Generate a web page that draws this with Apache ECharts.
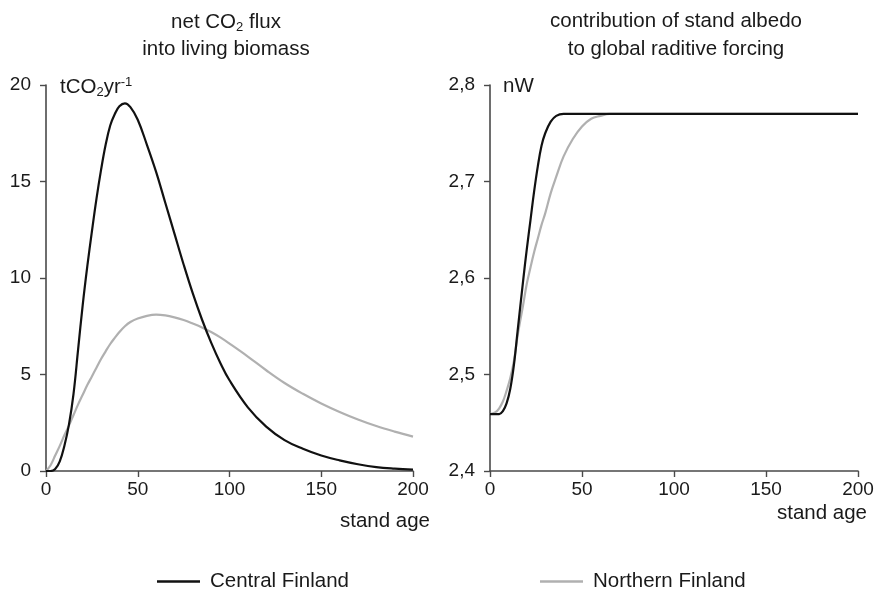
<!DOCTYPE html>
<html>
<head>
<meta charset="utf-8">
<script src="https://cdn.jsdelivr.net/npm/echarts@6/dist/echarts.min.js"></script>
<style>
html,body{margin:0;padding:0;background:#fff;}
#chart{width:884px;height:592px;}
</style>
</head>
<body>
<div id="chart"></div>
<script>
// ---- data ----
var seriesNames = ['Central Finland', 'Northern Finland'];
var fluxAge = [0,2.5,5,7.5,10,12.5,15,17.5,20,22.5,25,27.5,30,32.5,35,37.5,40,43,46,50,55,60,65,70,75,80,85,90,95,100,110,120,130,140,150,160,170,180,190,200];
var fluxCentral = [0,0,0.1,0.5,1.3,2.4,4.0,6.3,8.6,10.6,12.4,14.1,15.6,16.9,17.9,18.5,18.9,19.05,18.85,18.2,16.9,15.5,13.9,12.3,10.7,9.2,7.85,6.65,5.6,4.7,3.3,2.3,1.6,1.15,0.8,0.55,0.35,0.2,0.12,0.07];
var fluxNorthern = [0,0.3,0.8,1.3,1.85,2.35,2.9,3.45,3.95,4.45,4.9,5.35,5.8,6.2,6.58,6.9,7.2,7.5,7.72,7.9,8.04,8.1,8.06,7.96,7.82,7.64,7.44,7.2,6.92,6.6,5.93,5.22,4.56,4.0,3.5,3.06,2.67,2.33,2.04,1.78];
var albedoAge = [0,3,5,7,9,11,13,15,18,20,22,24,26,28,30,33,36,40,45,50,55,60,65,70,100,150,200];
var albedoCentral = [2.459,2.459,2.459,2.462,2.47,2.485,2.51,2.545,2.597,2.63,2.66,2.69,2.716,2.737,2.75,2.762,2.768,2.77,2.77,2.77,2.77,2.77,2.77,2.77,2.77,2.77,2.77];
var albedoNorthern = [2.459,2.461,2.465,2.472,2.483,2.496,2.514,2.54,2.572,2.594,2.611,2.627,2.641,2.655,2.667,2.688,2.705,2.726,2.744,2.757,2.765,2.768,2.77,2.77,2.77,2.77,2.77];
var xTicks = [0, 50, 100, 150, 200];
var fluxTicks = [0, 5, 10, 15, 20];
var albedoTicks = [2.4, 2.5, 2.6, 2.7, 2.8];

function pairs(xs, ys){ return xs.map(function(x,i){ return [x, ys[i]]; }); }

var FONT = 'Liberation Sans, Arial, sans-serif';
var TXT = '#1a1a1a';
var AX = '#4a4a4a';
var FS = 20.5;
var TFS = 19;
var BLACK = '#111111';
var GRAY = '#b0b0b0';

function xAxisCfg(gridIndex){
  return {
    type:'value', gridIndex:gridIndex, min:xTicks[0], max:xTicks[xTicks.length-1], interval:xTicks[1]-xTicks[0],
    axisLine:{show:true, lineStyle:{color:AX, width:1.6}},
    axisTick:{show:true, length:6, lineStyle:{color:AX, width:1.4}},
    axisLabel:{color:TXT, fontFamily:FONT, fontSize:TFS, margin:9},
    splitLine:{show:false}
  };
}
function yAxisCfg(gridIndex, ticks, fmt){
  return {
    type:'value', gridIndex:gridIndex, min:ticks[0], max:ticks[ticks.length-1], interval:+(ticks[1]-ticks[0]).toFixed(4),
    axisLine:{show:true, lineStyle:{color:AX, width:1.6}},
    axisTick:{show:true, length:6, lineStyle:{color:AX, width:1.4}},
    axisLabel:{color:TXT, fontFamily:FONT, fontSize:TFS, margin:15, formatter:fmt},
    splitLine:{show:false}
  };
}
var lineCommon = {type:'line', showSymbol:false, symbol:'none', smooth:0.4, animation:false};

var chart = echarts.init(document.getElementById('chart'));
chart.setOption({
  backgroundColor:'#ffffff',
  animation:false,
  textStyle:{fontFamily:FONT},
  grid:[
    {left:46, top:85, width:367, height:386},
    {left:490, top:85, width:368, height:386}
  ],
  xAxis:[xAxisCfg(0), xAxisCfg(1)],
  yAxis:[
    yAxisCfg(0, fluxTicks, function(v){ return String(Math.round(v)); }),
    yAxisCfg(1, albedoTicks, function(v){ return v.toFixed(1).replace('.', ','); })
  ],
  legend:[
    {left:152, top:566, icon:'rect', itemWidth:43, itemHeight:2.5, itemGap:10,
     textStyle:{color:TXT, fontFamily:FONT, fontSize:FS, padding:[0,0,0,5]}, data:[seriesNames[0]], selectedMode:false},
    {left:535, top:566, icon:'rect', itemWidth:43, itemHeight:2.5, itemGap:10,
     textStyle:{color:TXT, fontFamily:FONT, fontSize:FS, padding:[0,0,0,5]}, data:[seriesNames[1]], selectedMode:false}
  ],
  series:[
    Object.assign({}, lineCommon, {name:seriesNames[1], xAxisIndex:0, yAxisIndex:0, data:pairs(fluxAge, fluxNorthern), lineStyle:{color:GRAY, width:2.2}, itemStyle:{color:GRAY}}),
    Object.assign({}, lineCommon, {name:seriesNames[0], xAxisIndex:0, yAxisIndex:0, data:pairs(fluxAge, fluxCentral), lineStyle:{color:BLACK, width:2.2}, itemStyle:{color:BLACK}}),
    Object.assign({}, lineCommon, {name:seriesNames[1], xAxisIndex:1, yAxisIndex:1, data:pairs(albedoAge, albedoNorthern), lineStyle:{color:GRAY, width:2.2}, itemStyle:{color:GRAY}}),
    Object.assign({}, lineCommon, {name:seriesNames[0], xAxisIndex:1, yAxisIndex:1, data:pairs(albedoAge, albedoCentral), lineStyle:{color:BLACK, width:2.2}, itemStyle:{color:BLACK}})
  ],
  graphic:[
    {type:'text', x:226, y:22, style:{text:'net CO{sub|2} flux', fill:TXT, font:FS+'px '+FONT, align:'center', verticalAlign:'middle',
      rich:{sub:{fontSize:13, fontFamily:FONT, fill:TXT, padding:[11,0,0,0]}}}},
    {type:'text', x:226, y:49, style:{text:'into living biomass', fill:TXT, font:FS+'px '+FONT, align:'center', verticalAlign:'middle'}},
    {type:'text', x:676, y:21, style:{text:'contribution of stand albedo', fill:TXT, font:FS+'px '+FONT, align:'center', verticalAlign:'middle'}},
    {type:'text', x:676, y:49, style:{text:'to global raditive forcing', fill:TXT, font:FS+'px '+FONT, align:'center', verticalAlign:'middle'}},
    {type:'text', x:60, y:87, style:{text:'tCO{sub|2}yr{sup|-1}', fill:TXT, font:FS+'px '+FONT, align:'left', verticalAlign:'middle',
      rich:{sub:{fontSize:13, fontFamily:FONT, fill:TXT, padding:[11,0,0,0]}, sup:{fontSize:13, fontFamily:FONT, fill:TXT, padding:[0,0,10,0]}}}},
    {type:'text', x:503, y:86, style:{text:'nW', fill:TXT, font:FS+'px '+FONT, align:'left', verticalAlign:'middle'}},
    {type:'text', x:385, y:521, style:{text:'stand age', fill:TXT, font:FS+'px '+FONT, align:'center', verticalAlign:'middle'}},
    {type:'text', x:822, y:513, style:{text:'stand age', fill:TXT, font:FS+'px '+FONT, align:'center', verticalAlign:'middle'}}
  ]
});
</script>
</body>
</html>
